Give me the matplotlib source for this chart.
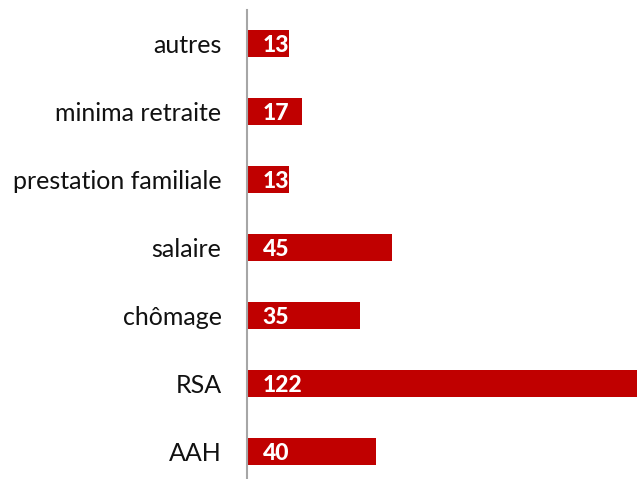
import matplotlib
matplotlib.use('Agg')
import matplotlib.pyplot as plt

# Values (bottom to top)
categories = ['AAH', 'RSA', 'chômage', 'salaire', 'prestation familiale', 'minima retraite', 'autres']
values = [40, 122, 35, 45, 13, 17, 13]

plt.rcParams['font.family'] = ['Lato', 'DejaVu Sans']

fig = plt.figure(figsize=(6.37, 4.79), dpi=100)
ax = fig.add_axes([246.5 / 637, -6.5 / 479, 390.5 / 637, 476 / 479])

pos = range(len(categories))
ax.barh(pos, values, height=0.4, color='#C00000')

for p, v in zip(pos, values):
    ax.annotate(str(v), xy=(0, p), xytext=(16, -2), textcoords='offset pixels',
                ha='left', va='center', color='white', fontweight='black', fontsize=16.5)

ax.set_yticks(list(pos))
ax.set_yticklabels(categories, fontsize=18, color='#111111')
ax.tick_params(axis='y', length=0, pad=18)
ax.set_xlim(0, 120.5)
ax.set_ylim(-0.5, len(categories) - 0.5)
ax.set_xticks([])

for s in ['top', 'right', 'bottom']:
    ax.spines[s].set_visible(False)
ax.spines['left'].set_color('#A6A6A6')
ax.spines['left'].set_linewidth(1.5)

fig.savefig('out.png', dpi=100)
